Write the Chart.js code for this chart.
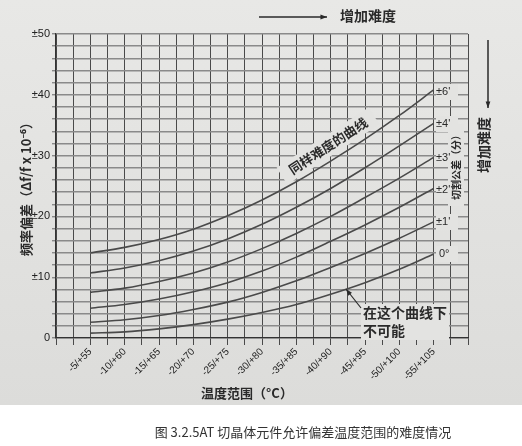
<!DOCTYPE html>
<html>
<head>
<meta charset="utf-8">
<script src="https://cdn.jsdelivr.net/npm/chart.js@4/dist/chart.umd.min.js"></script>
<style>
  html, body { margin: 0; padding: 0; background: #fff; }
  #wrap { width: 522px; height: 446px; }
</style>
</head>
<body>
<div id="wrap"><canvas id="c" width="522" height="446"></canvas></div>
<script>
// ---- Data ----
const categories = ['-5/+55', '-10/+60', '-15/+65', '-20/+70', '-25/+75', '-30/+80',
                    '-35/+85', '-40/+90', '-45/+95', '-50/+100', '-55/+105'];
const rangeWidth = [60, 70, 80, 90, 100, 110, 120, 130, 140, 150, 160]; // width of temperature range (°C)
const seriesNames = ['0°', "±1'", "±2'", "±3'", "±4'", "±6'"];
const cut0 = [0.8, 1.0, 1.5, 2.2, 3.1, 4.2, 5.5, 7.2, 9.1, 11.3, 13.8];
const cut1 = [2.6, 3.0, 3.7, 4.7, 5.9, 7.5, 9.4, 11.6, 13.9, 16.4, 19.1];
const cut2 = [4.9, 5.5, 6.4, 7.6, 9.1, 11.0, 13.3, 15.9, 18.6, 21.5, 24.6];
const cut3 = [7.5, 8.2, 9.3, 10.7, 12.5, 14.7, 17.2, 20.0, 23.1, 26.3, 29.7];
const cut4 = [10.7, 11.5, 12.7, 14.3, 16.3, 18.7, 21.5, 24.6, 28.0, 31.6, 35.3];
const cut6 = [14.0, 14.9, 16.2, 17.9, 20.1, 22.7, 25.7, 29.1, 32.7, 36.6, 40.8];
const yTickValues = [0, 10, 20, 30, 40, 50];
const yTickLabels = ['0', '±10', '±20', '±30', '±40', '±50'];

const allSeries = [cut0, cut1, cut2, cut3, cut4, cut6];
const datasets = allSeries.map((arr, k) => ({
  label: seriesNames[k],
  data: arr.map((v, i) => ({ x: rangeWidth[i], y: v })),
  borderColor: '#4a4a4a',
  borderWidth: 1.6,
  pointRadius: 0,
  cubicInterpolationMode: 'monotone',
  fill: false
}));

const BG_TOP = '#e8e8e6', BG_BOT = '#dcdcda', BG_MID = '#e3e3e1';
const CJK = '"Noto Sans CJK SC", "Noto Sans", sans-serif';

function arrow(ctx, x1, y1, x2, y2, head) {
  ctx.beginPath(); ctx.moveTo(x1, y1); ctx.lineTo(x2, y2); ctx.stroke();
  const a = Math.atan2(y2 - y1, x2 - x1);
  ctx.beginPath();
  ctx.moveTo(x2, y2);
  ctx.lineTo(x2 - head * Math.cos(a - 0.35), y2 - head * Math.sin(a - 0.35));
  ctx.lineTo(x2 - head * Math.cos(a + 0.35), y2 - head * Math.sin(a + 0.35));
  ctx.closePath(); ctx.fill();
}

const decor = {
  id: 'decor',
  beforeDraw(chart) {
    const ctx = chart.ctx;
    ctx.save();
    const g = ctx.createLinearGradient(0, 0, 0, 405);
    g.addColorStop(0, BG_TOP); g.addColorStop(1, BG_BOT);
    ctx.fillStyle = g; ctx.fillRect(0, 0, 522, 405);
    ctx.fillStyle = '#ffffff'; ctx.fillRect(0, 405, 522, 41);
    ctx.restore();
  },
  beforeDatasetsDraw(chart) {
    const ctx = chart.ctx;
    ctx.save();
    ctx.fillStyle = BG_MID;
    // label area at right end of curves
    ctx.fillRect(436, 84, 22, 16);
    ctx.fillRect(436, 116, 22, 16);
    ctx.fillRect(436, 150, 22, 16);
    ctx.fillRect(436, 182, 22, 16);
    ctx.fillRect(436, 214, 22, 16);
    ctx.fillRect(436, 246, 22, 16);
    ctx.fillRect(448, 124, 16, 82);
    // box behind "same difficulty" text
    ctx.translate(328, 146); ctx.rotate(-0.58);
    ctx.fillRect(-55, -10, 110, 20);
    ctx.restore();
    ctx.save();
    ctx.fillStyle = BG_MID;
    ctx.fillRect(361, 304, 88, 36);
    ctx.restore();
  },
  afterDraw(chart) {
    const ctx = chart.ctx;
    ctx.save();
    ctx.fillStyle = '#2a2a2a'; ctx.strokeStyle = '#2a2a2a';
    ctx.textBaseline = 'middle';
    // top arrow + text
    ctx.lineWidth = 1.5;
    arrow(ctx, 259, 17, 327, 17, 7);
    ctx.font = 'bold 14px ' + CJK; ctx.textAlign = 'left';
    ctx.fillText('增加难度', 340, 16);
    // right arrow + text
    arrow(ctx, 488, 40, 488, 108, 7);
    ctx.save(); ctx.translate(484, 145); ctx.rotate(-Math.PI / 2);
    ctx.textAlign = 'center'; ctx.fillText('增加难度', 0, 0); ctx.restore();
    // cut tolerance labels
    ctx.font = '11px "Liberation Sans", Arial, sans-serif'; ctx.textAlign = 'left';
    const ly = [254, 222, 190, 158, 124, 92];
    seriesNames.forEach((n, k) => ctx.fillText(n, k === 0 ? 439 : 436, ly[k]));
    ctx.save(); ctx.translate(456, 165); ctx.rotate(-Math.PI / 2);
    ctx.font = 'bold 10px ' + CJK; ctx.textAlign = 'center';
    ctx.fillText('切割公差（分）', 0, 0); ctx.restore();
    // same difficulty
    ctx.save(); ctx.translate(328, 146); ctx.rotate(-0.58);
    ctx.font = 'bold 13px ' + CJK; ctx.textAlign = 'center';
    ctx.fillText('同样难度的曲线', 0, 0); ctx.restore();
    // impossible region note
    ctx.lineWidth = 1.2;
    arrow(ctx, 361, 308, 346, 289, 7);
    ctx.font = 'bold 14px ' + CJK; ctx.textAlign = 'left';
    ctx.fillText('在这个曲线下', 363, 313);
    ctx.fillText('不可能', 363, 331);
    // x axis title
    ctx.font = 'bold 13px ' + CJK; ctx.textAlign = 'center';
    ctx.fillText('温度范围（°C）', 247, 393);
    // caption
    ctx.fillStyle = '#333';
    ctx.font = '13px ' + CJK;
    ctx.fillText('图 3.2.5AT 切晶体元件允许偏差温度范围的难度情况', 303, 432);
    ctx.restore();
  }
};

new Chart(document.getElementById('c'), {
  type: 'line',
  data: { datasets },
  options: {
    responsive: false,
    animation: false,
    devicePixelRatio: 1,
    layout: { padding: { left: 0, right: 54, top: 34, bottom: 0 } },
    plugins: { legend: { display: false }, tooltip: { enabled: false } },
    scales: {
      x: {
        type: 'linear', min: 50, max: 170,
        afterFit(s) { s.height = 108; },
        border: { color: '#333', width: 1.2 },
        grid: { color: '#4a4a4a', lineWidth: 1, tickLength: 7, drawTicks: true },
        ticks: {
          stepSize: 5, autoSkip: false, minRotation: 45, maxRotation: 45,
          color: '#222', padding: 1,
          font: { size: 10, family: '"Liberation Sans", Arial, sans-serif' },
          callback(v) { const i = rangeWidth.indexOf(v); return i >= 0 ? categories[i] : ''; }
        }
      },
      y: {
        type: 'linear', min: 0, max: 50,
        afterFit(s) { s.width = 56; },
        border: { color: '#333', width: 1.2 },
        grid: { color: '#8a8a8a', lineWidth: 1.4, tickLength: 4 },
        ticks: {
          stepSize: 2, autoSkip: false, color: '#222', padding: 2,
          font: { size: 11, family: '"Liberation Sans", Arial, sans-serif' },
          callback(v) { const i = yTickValues.indexOf(v); return i >= 0 ? yTickLabels[i] : ''; }
        },
        title: {
          display: true, text: '频率偏差（Δf/f x 10⁻⁶）', color: '#2a2a2a',
          font: { size: 13, weight: 'bold', family: CJK },
          padding: { top: 18, bottom: 0 }
        }
      }
    }
  },
  plugins: [decor]
});
</script>
</body>
</html>
